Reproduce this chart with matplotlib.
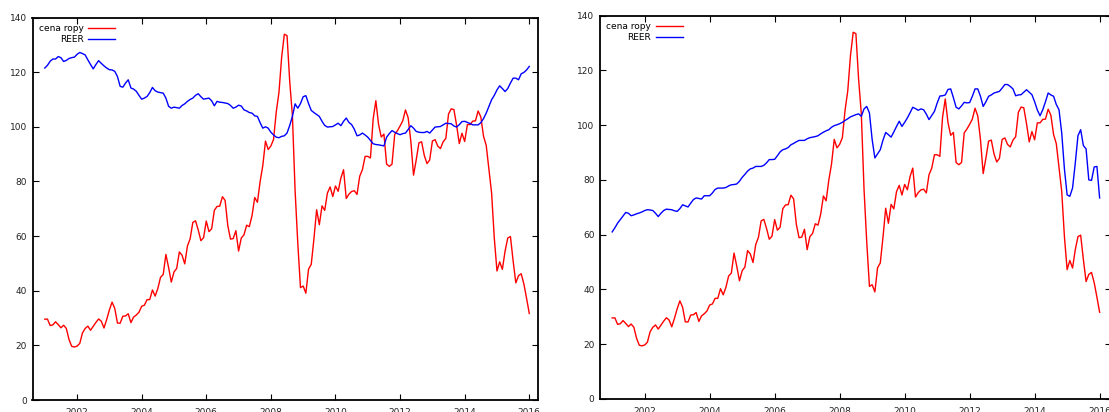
import numpy as np
import matplotlib
matplotlib.use("Agg")
import matplotlib.pyplot as plt

# monthly series, Jan 2001 .. Jan 2016
start_year = 2001
oil = [
    29.59, 29.61, 27.25, 27.49, 28.63, 27.60, 26.43, 27.37, 26.20, 22.17, 19.64, 19.39,
    19.72, 20.72, 24.53, 26.18, 27.04, 25.52, 26.97, 28.39, 29.66, 28.84, 26.35, 29.46,
    32.95, 35.83, 33.51, 28.17, 28.11, 30.66, 30.76, 31.57, 28.31, 30.34, 31.11, 32.13,
    34.31, 34.69, 36.74, 36.75, 40.28, 38.03, 40.78, 44.90, 45.94, 53.28, 48.47, 43.15,
    46.84, 48.15, 54.19, 52.98, 49.83, 56.35, 59.00, 64.99, 65.59, 62.26, 58.32, 59.41,
    65.49, 61.63, 62.69, 69.44, 70.84, 70.95, 74.41, 73.04, 63.80, 58.89, 59.08, 61.96,
    54.51, 59.28, 60.44, 63.98, 63.46, 67.49, 74.12, 72.36, 79.92, 85.80, 94.77, 91.69,
    92.97, 95.39, 105.45, 112.58, 125.40, 133.88, 133.37, 116.67, 104.11, 76.61, 57.31, 41.12,
    41.71, 39.09, 47.94, 49.65, 59.03, 69.64, 64.15, 71.05, 69.41, 75.72, 77.99, 74.47,
    78.33, 76.39, 81.20, 84.29, 73.74, 75.34, 76.32, 76.60, 75.24, 81.89, 84.25, 89.15,
    89.17, 88.58, 102.86, 109.53, 100.90, 96.26, 97.30, 86.33, 85.52, 86.32, 97.16, 98.56,
    100.27, 102.20, 106.16, 103.32, 94.66, 82.30, 87.90, 94.13, 94.51, 89.49, 86.53, 87.86,
    94.76, 95.31, 92.94, 92.02, 94.51, 95.77, 104.67, 106.57, 106.29, 100.54, 93.86, 97.63,
    94.62, 100.82, 100.80, 102.07, 102.18, 105.79, 103.59, 96.54, 93.21, 84.40, 75.79, 59.29,
    47.22, 50.58, 47.82, 54.45, 59.27, 59.82, 50.90, 42.87, 45.48, 46.22, 42.44, 37.19,
    31.68,
]

reer_left = [
    121.5, 122.5, 124.0, 124.8, 124.8, 125.7, 125.3, 123.9, 124.3, 125.0, 125.3, 125.5,
    126.5, 127.2, 126.8, 126.3, 124.5, 122.8, 121.2, 122.8, 124.2, 123.2, 122.3, 121.5,
    120.9, 120.8, 120.3, 118.4, 114.8, 114.5, 116.0, 117.2, 114.2, 113.8, 113.0, 111.5,
    110.1, 110.5, 111.1, 112.5, 114.4, 113.2, 112.7, 112.5, 112.3, 110.5, 107.5, 106.8,
    107.2, 107.0, 106.8, 107.8, 108.4, 109.3, 110.0, 110.5, 111.5, 112.1, 111.0, 110.1,
    110.3, 110.5, 109.5, 107.7, 109.3, 109.0, 108.9, 108.7, 108.5, 107.8, 106.8, 107.2,
    107.9, 107.6, 106.2, 105.8, 105.2, 105.0, 104.0, 103.8, 101.5, 99.5, 100.0, 99.5,
    98.0, 97.0, 96.2, 96.0, 96.5, 96.7, 97.7, 100.5, 103.8, 108.4, 106.8, 108.5,
    111.0, 111.4, 108.5, 106.0, 105.2, 104.5, 103.8, 102.0, 100.5, 99.9, 100.0, 100.1,
    100.7, 101.3, 100.4, 102.0, 103.2, 101.6, 100.8, 99.1, 96.7, 97.0, 97.7, 97.0,
    96.2, 95.0, 93.8, 93.5, 93.4, 93.2, 93.0, 96.2, 97.5, 98.6, 98.0, 97.5,
    97.1, 97.5, 97.7, 99.0, 100.4, 99.5, 98.3, 98.0, 97.9, 97.9, 98.3, 97.7,
    98.8, 99.9, 100.0, 100.1, 100.7, 101.3, 101.2, 101.1, 100.3, 99.9, 100.8, 101.9,
    102.0, 101.6, 101.2, 100.7, 100.7, 100.7, 101.5, 103.0, 105.0, 107.5, 109.9, 111.5,
    113.5, 115.0, 114.0, 112.9, 114.0, 116.0, 117.8, 117.8, 117.2, 119.4, 119.9, 120.8,
    122.1,
]

reer_right = [
    61.0, 62.5, 64.2, 65.5, 66.8, 68.1, 67.8, 66.9, 67.2, 67.6, 67.9, 68.3,
    68.8, 69.1, 69.0, 68.8, 67.8, 66.6, 67.8, 68.8, 69.3, 69.2, 69.1, 68.7,
    68.5, 69.5, 70.9, 70.5, 70.1, 71.5, 72.8, 73.4, 73.2, 73.0, 74.2, 74.2,
    74.2, 75.2, 76.5, 77.0, 77.0, 77.0, 77.2, 77.8, 78.2, 78.3, 78.5, 79.5,
    80.9, 82.0, 83.2, 84.0, 84.3, 84.9, 84.9, 84.9, 85.3, 86.2, 87.4, 87.4,
    87.5, 88.8, 90.2, 91.0, 91.3, 91.8, 92.8, 93.3, 93.9, 94.4, 94.4, 94.4,
    95.0, 95.4, 95.6, 95.8, 96.1, 96.8, 97.4, 97.9, 98.3, 99.2, 99.8, 100.1,
    100.5, 101.0, 101.7, 102.3, 103.0, 103.4, 103.8, 104.1, 103.2, 105.9, 106.8, 104.4,
    94.7, 88.0, 89.5, 91.0, 94.5, 97.3, 96.5, 95.6, 97.5, 99.5, 101.4, 99.5,
    101.0, 102.6, 104.5, 106.5, 106.0, 105.4, 105.9, 105.6, 104.0, 102.0, 103.5, 105.0,
    108.0, 110.6, 110.7, 111.0, 113.0, 113.2, 110.0, 106.5, 105.9, 107.0, 108.3, 108.1,
    108.2, 110.5, 113.2, 113.2, 110.5, 106.8, 108.5, 110.5, 111.0, 111.7, 112.0, 112.3,
    113.5, 114.8, 114.8, 114.1, 113.2, 110.7, 111.0, 111.1, 112.0, 112.9, 112.0, 111.1,
    108.5, 105.5, 103.4, 105.6, 108.5, 111.7, 111.0, 110.5, 107.5, 105.6, 97.1, 84.0,
    74.5, 74.0, 77.0, 86.0, 96.1, 98.3, 92.5, 91.3, 80.0, 79.8, 84.7, 84.9,
    73.4,
]

labels = ["cena ropy", "REER"]
year_ticks = list(range(2002, 2017, 2))
value_ticks = list(range(0, 141, 20))

t = start_year + np.arange(len(oil)) / 12.0

W, H = 1109, 412
dpi = 100.0
fig = plt.figure(figsize=(W / dpi, H / dpi), dpi=dpi, facecolor="white")

# axes boxes in pixels: left, top, right, bottom
boxes = [(32.5, 17.5, 538, 400), (600, 15.5, 1111, 399)]
xlims = [(2000.62, 2016.27), (2000.625, 2016.35)]
reers = [reer_left, reer_right]

for (x0, y0, x1, y1), xl, reer in zip(boxes, xlims, reers):
    ax = fig.add_axes([x0 / W, 1 - y1 / H, (x1 - x0) / W, (y1 - y0) / H])
    ax.plot(t, oil, color="#ff0000", lw=1.0, label=labels[0])
    ax.plot(t, reer, color="#0000ff", lw=1.0, label=labels[1])
    ax.set_xlim(*xl)
    ax.set_ylim(0, 140)
    ax.set_xticks(year_ticks)
    ax.set_xticklabels([str(y) for y in year_ticks])
    ax.set_yticks(value_ticks)
    ax.tick_params(direction="in", length=4, width=0.8, top=True, right=True,
                   labelsize=6.5, labelcolor="#222222")
    ax.tick_params(axis="x", pad=6)
    ax.tick_params(axis="y", pad=4)
    for s in ax.spines.values():
        s.set_linewidth(1.3)
    ax.legend(loc="upper left", markerfirst=False, frameon=False, fontsize=6.5,
              handlelength=3.0, handletextpad=0.5, labelspacing=0.25,
              borderaxespad=0.3, bbox_to_anchor=(0.0, 1.0))

fig.savefig("out.png", dpi=dpi)
